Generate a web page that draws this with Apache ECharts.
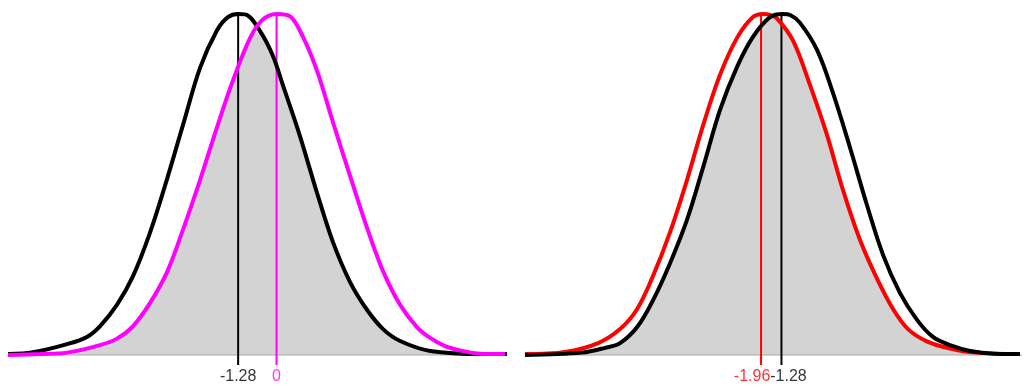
<!DOCTYPE html>
<html><head><meta charset="utf-8">
<script src="https://cdn.jsdelivr.net/npm/echarts@6/dist/echarts.min.js"></script>
<style>html,body{margin:0;padding:0;background:#fff}#c{width:1027px;height:388px}</style>
</head><body><div id="c"></div>
<script>
// ---------- Left panel (black: mean -1.28, magenta: mean 0) ----------
const leftBlackX = [-8.95,-8.12,-6.98,-6.32,-5.88,-5.32,-4.78,-4.22,-3.65,-3.12,-2.55,-1.98,-1.62,-1.28,-1.05,-0.55,-0.12,0.22,0.78,1.35,1.88,2.45,3.02,3.55,4.12,5.12,6.85,7.68];
const leftBlackY = [0.003,0.008,0.032,0.053,0.085,0.147,0.232,0.358,0.516,0.674,0.842,0.953,0.991,1.0,0.999,0.950,0.877,0.789,0.642,0.475,0.331,0.214,0.132,0.076,0.041,0.012,0.003,0.003];
const leftMagX = [-8.95,-7.88,-6.98,-5.88,-5.32,-4.78,-4.22,-3.65,-3.12,-2.55,-1.98,-1.45,-0.88,-0.48,0,0.45,0.88,1.35,1.88,2.45,3.02,3.55,4.12,4.68,5.12,5.62,6.18,6.78,7.62];
const leftMagY = [0.0,0.003,0.007,0.029,0.048,0.085,0.152,0.243,0.367,0.513,0.669,0.806,0.930,0.982,1.0,0.993,0.933,0.833,0.683,0.525,0.372,0.246,0.147,0.082,0.050,0.026,0.012,0.004,0.003];
const leftMarkers = [-1.28, 0];
const leftLabels = ['-1.28', '0'];

// ---------- Right panel (red: mean -1.96, black: mean -1.28) ----------
const rightRedX = [-9.83,-8.49,-7.39,-6.66,-6.09,-5.56,-4.99,-4.43,-3.89,-3.33,-2.76,-2.23,-1.89,-1.66,-1.43,-0.89,-0.33,0.24,0.77,1.34,1.91,2.44,2.94,3.57,4.34,5.17,6.67];
const rightRedY = [0.003,0.009,0.035,0.076,0.135,0.232,0.361,0.513,0.674,0.821,0.930,0.991,1.0,0.997,0.987,0.921,0.792,0.645,0.484,0.337,0.223,0.135,0.076,0.040,0.019,0.007,0.003];
const rightBlackX = [-9.83,-7.93,-7.16,-6.66,-6.09,-5.56,-4.99,-4.43,-3.89,-3.33,-2.76,-2.23,-1.66,-1.23,-0.99,-0.66,-0.09,0.44,1.01,1.57,2.11,2.67,3.24,3.77,4.34,5.01,5.84,6.67];
const rightBlackY = [0.0,0.007,0.021,0.035,0.082,0.161,0.270,0.396,0.551,0.718,0.845,0.933,0.991,1.0,0.997,0.974,0.894,0.768,0.607,0.440,0.293,0.182,0.103,0.053,0.029,0.012,0.004,0.003];
const rightMarkers = [-1.96, -1.28];
const rightLabels = ['-1.96', '-1.28'];

// ---------- helpers ----------
function pairs(xs, ys) { return xs.map((x, i) => [x, ys[i]]); }
function interp(xs, ys, x) {
  if (x <= xs[0]) return ys[0];
  if (x >= xs[xs.length - 1]) return ys[ys.length - 1];
  for (let i = 1; i < xs.length; i++) {
    if (x <= xs[i]) {
      const t = (x - xs[i - 1]) / (xs[i] - xs[i - 1]);
      return ys[i - 1] + t * (ys[i] - ys[i - 1]);
    }
  }
  return ys[ys.length - 1];
}
function overlap(ax, ay, bx, by) {
  const xs = Array.from(new Set(ax.concat(bx))).sort((a, b) => a - b);
  return xs.map(x => [x, Math.min(interp(ax, ay, x), interp(bx, by, x))]);
}

const yMin = -0.0293;
const font = 'Liberation Sans, Arial, sans-serif';
const SM = 0.35;

function panelSeries(idx, xMin, xMax, curves, markers, labels, markerColors, labelOffsets) {
  const s = [];
  s.push({
    type: 'line', xAxisIndex: idx, yAxisIndex: idx, z: 1, smooth: SM,
    symbol: 'none', silent: true,
    data: overlap(curves[0].x, curves[0].y, curves[1].x, curves[1].y),
    lineStyle: { width: 0 }, areaStyle: { color: '#d3d3d3', opacity: 1 }
  });
  s.push({
    type: 'line', xAxisIndex: idx, yAxisIndex: idx, z: 2, symbol: 'none', silent: true,
    data: [[xMin, 0], [xMax, 0]], lineStyle: { color: '#a9a9a9', width: 1 }
  });
  markers.forEach((m, i) => {
    s.push({
      type: 'line', xAxisIndex: idx, yAxisIndex: idx, z: 3, symbol: 'none', silent: true,
      data: [[m, 1.0], [m, yMin]], lineStyle: { color: markerColors[i], width: 2 }
    });
    s.push({
      type: 'scatter', xAxisIndex: idx, yAxisIndex: idx, z: 5, symbolSize: 1, silent: true,
      itemStyle: { color: 'transparent' },
      data: [[m, yMin]],
      label: { show: true, position: 'bottom', distance: 3, formatter: labels[i],
               color: markerColors[i], fontSize: 16, fontFamily: font, offset: [labelOffsets[i], 0] }
    });
  });
  curves.forEach(c => {
    s.push({
      type: 'line', xAxisIndex: idx, yAxisIndex: idx, z: c.z, smooth: SM, symbol: 'none', silent: true,
      data: pairs(c.x, c.y), lineStyle: { color: c.color, width: 4 }
    });
  });
  return s;
}

const L = { min: -8.95, max: 7.68 };
const R = { min: -9.83, max: 6.74 };

const series = [].concat(
  panelSeries(0, L.min, L.max,
    [{ x: leftBlackX, y: leftBlackY, color: '#000000', z: 4 },
     { x: leftMagX, y: leftMagY, color: '#ff00ff', z: 4 }],
    leftMarkers, leftLabels, ['#000000', '#ff00ff'], [0, 0]),
  panelSeries(1, R.min, R.max,
    [{ x: rightRedX, y: rightRedY, color: '#ff0000', z: 4 },
     { x: rightBlackX, y: rightBlackY, color: '#000000', z: 4 }],
    rightMarkers, rightLabels, ['#ff0000', '#000000'], [-9, 7])
);

const hiddenAxis = { show: false };
const chart = echarts.init(document.getElementById('c'), null, { renderer: 'canvas' });
chart.setOption({
  animation: false,
  backgroundColor: '#ffffff',
  grid: [
    { left: 8, top: 14, width: 499, height: 351 },
    { left: 525, top: 14, width: 497, height: 351 }
  ],
  xAxis: [
    Object.assign({ type: 'value', gridIndex: 0, min: L.min, max: L.max }, hiddenAxis),
    Object.assign({ type: 'value', gridIndex: 1, min: R.min, max: R.max }, hiddenAxis)
  ],
  yAxis: [
    Object.assign({ type: 'value', gridIndex: 0, min: yMin, max: 1 }, hiddenAxis),
    Object.assign({ type: 'value', gridIndex: 1, min: yMin, max: 1 }, hiddenAxis)
  ],
  series: series
});
</script></body></html>
